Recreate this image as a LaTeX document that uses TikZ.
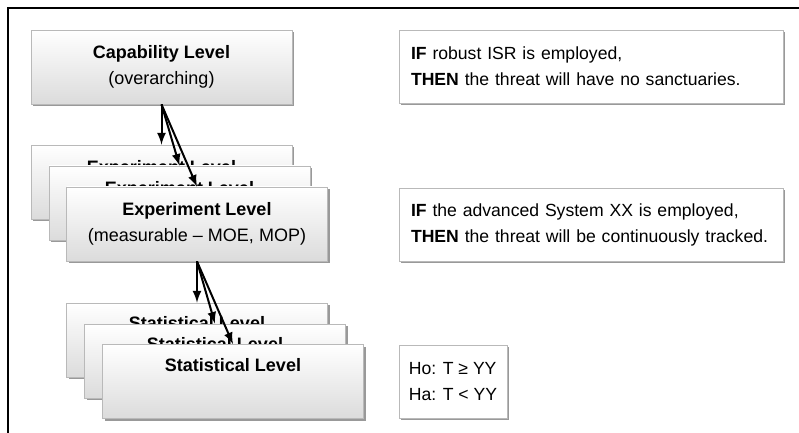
\documentclass[tikz,border=0pt]{standalone}
\usepackage{fontspec}
\setmainfont{Liberation Sans}
\usetikzlibrary{shadows}

\tikzset{
	lvl/.style={draw=gray!55, line width=0.4pt, top color=white, bottom color=gray!28,
		minimum width=130.5pt, minimum height=37pt, inner sep=0pt, align=center,
		font=\fontsize{9}{13}\selectfont,
		drop shadow={shadow xshift=1.2pt, shadow yshift=-1.2pt, fill=gray!80, opacity=1}},
	hyp/.style={draw=gray!55, line width=0.4pt, fill=white, minimum height=36.5pt,
		inner xsep=6pt, inner ysep=0pt, align=left,
		font=\fontsize{8.8}{13}\selectfont,
		drop shadow={shadow xshift=1.2pt, shadow yshift=-1.2pt, fill=gray!80, opacity=1}},
	lnk/.style={->, line width=1pt}
}

\begin{document}
\begin{tikzpicture}[x=0.5pt, y=-0.5pt, >=latex]
					\useasboundingbox (0,0) rectangle (799,433);
					
					%FRAME
					\draw[line width=0.8pt] (8,433) -- (8,8) -- (799,8);
					%CAPABILITY
					\node[lvl] (cap) at (161.5,67) {\textbf{Capability Level}\\(overarching)};
					%EXPERIMENTS
					\node[lvl] (exp1) at (161.5,182) {\textbf{Experiment Level}\\(measurable -- MOE, MOP)};
					\node[lvl] (exp2) at (179.5,203) {\textbf{Experiment Level}\\(measurable -- MOE, MOP)};
					\node[lvl] (exp3) at (197,224) {\textbf{Experiment Level}\\(measurable -- MOE, MOP)};
					%STATISTICS
					\node[lvl] (stat1) at (197,340) {\textbf{Statistical Level}\\\strut};
					\node[lvl] (stat2) at (215,361) {\textbf{Statistical Level}\\\strut};
					\node[lvl] (stat3) at (233,381.5) {\textbf{Statistical Level}\\\strut};
					%HYPOTHESES
					\node[hyp, text width=180pt] (ifcap) at (591,66.5) {\textbf{IF} robust ISR is employed,\\\textbf{THEN} the threat will have no sanctuaries.};
					\node[hyp, text width=180pt] (ifexp) at (591,224.5) {\textbf{IF} the advanced System XX is employed,\\\textbf{THEN} the threat will be continuously tracked.};
					\node[hyp, minimum width=54pt, inner xsep=0pt] (ifstat) at (453,381.5) {Ho: T ≥ YY\\Ha: T < YY};
					%ARROWS
					\foreach \n in {exp1,exp2,exp3}
						\draw[lnk] (cap.south) -- (\n.north);
					\foreach \n in {stat1,stat2,stat3}
						\draw[lnk] (exp3.south) -- (\n.north);
					
\end{tikzpicture}
\end{document}
